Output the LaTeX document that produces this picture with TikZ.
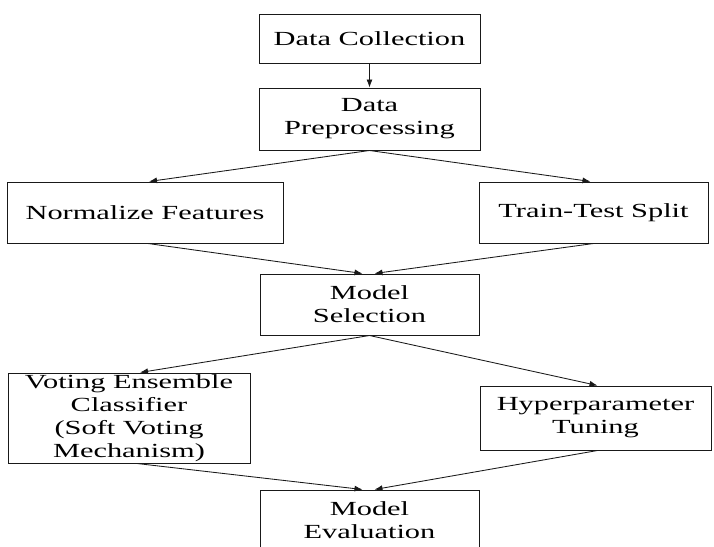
\documentclass[tikz,border=0pt]{standalone}
\usepackage{fontspec}
\setmainfont{Liberation Serif}[FakeStretch=1.52]
\usetikzlibrary{arrows.meta}
\begin{document}
\begin{tikzpicture}[x=1pt,y=-1pt,
  stepbox/.style={draw=black!90, line width=1pt, rectangle, inner sep=0pt,
    align=center, text=black, font=\fontsize{20}{23}\selectfont},
  flow/.style={draw=black!90, line width=0.85pt, -{Latex[length=8pt,width=6pt]}}]
\useasboundingbox (0,0) rectangle (714,546);
\fill[white] (0,0) rectangle (714,546);

% process steps
\node[stepbox, minimum width=221, minimum height=49] (dc) at (369.5,38.5) {Data Collection};
\node[stepbox, minimum width=221, minimum height=62] (dp) at (369.5,119) {Data\\Preprocessing};
\node[stepbox, minimum width=276, minimum height=61] (nf) at (145,212.5) {Normalize Features};
\node[stepbox, minimum width=229, minimum height=61] (tt) at (593.5,212.5) {Train-Test Split};
\node[stepbox, minimum width=219, minimum height=61] (ms) at (369.5,304.5) {Model\\Selection};
\node[stepbox, minimum width=242, minimum height=90] (ve) at (129,418) {Voting Ensemble\\Classifier\\(Soft Voting\\Mechanism)};
\node[stepbox, minimum width=231, minimum height=64] (hp) at (595.5,418) {Hyperparameter\\Tuning};
\node[stepbox, minimum width=219, minimum height=61] (me) at (369.5,520.5) {Model\\Evaluation};

% connectors
\draw[flow] (dc.south) -- (dp.north);
\draw[flow] (dp.south) -- ([xshift=4]nf.north);
\draw[flow] (dp.south) -- ([xshift=-3]tt.north);
\draw[flow] ([xshift=3]nf.south) -- ([xshift=-7]ms.north);
\draw[flow] (tt.south) -- ([xshift=5]ms.north);
\draw[flow] (ms.south) -- ([xshift=11]ve.north);
\draw[flow] (ms.south) -- ([xshift=2]hp.north);
\draw[flow] ([xshift=8]ve.south) -- ([xshift=-7]me.north);
\draw[flow] ([xshift=2]hp.south) -- ([xshift=5]me.north);
\end{tikzpicture}
\end{document}
